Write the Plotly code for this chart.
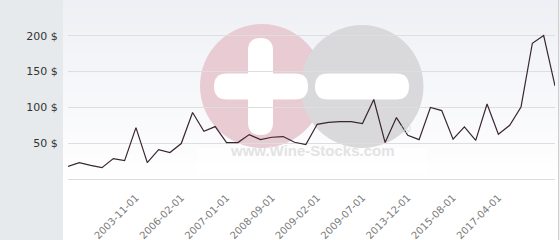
import plotly.graph_objects as go

dates = [
    "2002-01-01", "2002-05-01", "2002-09-01", "2003-01-01", "2003-04-01", "2003-08-01",
    "2003-11-01", "2004-06-01", "2005-01-01", "2005-07-01",
    "2006-02-01", "2006-05-01", "2006-08-01", "2006-10-01",
    "2007-01-01", "2007-06-01", "2007-11-01", "2008-04-01",
    "2008-09-01", "2008-10-01", "2008-11-01", "2008-12-01",
    "2009-02-01", "2009-03-01", "2009-04-01", "2009-06-01",
    "2009-07-01", "2010-09-01", "2011-12-01", "2012-11-01",
    "2013-12-01", "2014-04-01", "2014-09-01", "2015-02-01",
    "2015-08-01", "2016-01-01", "2016-06-01", "2016-11-01",
    "2017-04-01", "2017-09-01", "2018-02-01", "2018-07-01", "2018-12-01", "2019-05-01",
]
prices = [
    17.7, 22.9, 19.1, 15.9, 28.5, 25.7, 71.8, 22.9, 41.1, 36.9,
    49.5, 92.8, 66.7, 73.2, 50.9, 50.9, 62.0, 55.0, 58.3, 59.3,
    51.3, 48.0, 76.4, 79.2, 80.2, 80.2, 77.4, 111.0, 50.9, 85.8,
    61.0, 55.0, 99.8, 95.6, 55.5, 72.7, 54.0, 104.8, 62.5, 75.0,
    100.6, 189.6, 200.4, 130.0,
]
tick_labels = ["2003-11-01", "2006-02-01", "2007-01-01", "2008-09-01", "2009-02-01",
               "2009-07-01", "2013-12-01", "2015-08-01", "2017-04-01"]
y_ticks = [50, 100, 150, 200]
y_tick_text = ["50 $", "100 $", "150 $", "200 $"]

W, H = 560, 240
ML, MR, MT, MB = 68, 5, 0, 61
PW, PH = W - ML - MR, H - MT - MB


def px_x(x):
    return (x - ML) / PW


def px_y(y):
    return (MT + PH - y) / PH


def rect(x0, y0, x1, y1, color):
    return dict(type="rect", xref="paper", yref="paper", layer="below",
                x0=px_x(x0), x1=px_x(x1), y0=px_y(y1), y1=px_y(y0),
                fillcolor=color, line=dict(width=0))


def circle(cx, cy, r, color):
    return dict(type="circle", xref="paper", yref="paper", layer="below",
                x0=px_x(cx - r), x1=px_x(cx + r), y0=px_y(cy + r), y1=px_y(cy - r),
                fillcolor=color, line=dict(width=0))


def rounded(x0, y0, x1, y1, color):
    r = min(x1 - x0, y1 - y0) / 2
    pts = []
    def P(x, y):
        return f"{px_x(x):.5f},{px_y(y):.5f}"
    d = (f"M{P(x0 + r, y0)} L{P(x1 - r, y0)} Q{P(x1, y0)} {P(x1, y0 + r)} "
         f"L{P(x1, y1 - r)} Q{P(x1, y1)} {P(x1 - r, y1)} "
         f"L{P(x0 + r, y1)} Q{P(x0, y1)} {P(x0, y1 - r)} "
         f"L{P(x0, y0 + r)} Q{P(x0, y0)} {P(x0 + r, y0)} Z")
    return dict(type="path", xref="paper", yref="paper", layer="below",
                path=d, fillcolor=color, line=dict(width=0))


def lerp(c1, c2, t):
    return "rgb(%d,%d,%d)" % tuple(round(a + (b - a) * t) for a, b in zip(c1, c2))


shapes = []
# left panel
shapes.append(rect(0, 0, 63, 240, "#e6eaed"))
# plot background gradient
top_c, bot_c = (238, 240, 245), (255, 255, 255)
n = 24
gh = 185 / n
for i in range(n):
    shapes.append(rect(63, i * gh, 558, (i + 1) * gh + 0.5, lerp(top_c, bot_c, i / (n - 1))))
shapes.append(rect(63, 185, 558, 240, "#ffffff"))
# right border
shapes.append(rect(558, 0, 559.3, 240, "#cfcfcf"))
# watermark
shapes.append(rect(197, 148, 427, 174, "rgba(255,255,255,0.55)"))
shapes.append(circle(262, 86, 62, "#e9cbd3"))
shapes.append(circle(362, 86.5, 61.5, "#d9d9db"))
shapes.append(rounded(248, 38, 273, 135, "#ffffff"))
shapes.append(rounded(214, 73.5, 308, 99.5, "#ffffff"))
shapes.append(rounded(315, 73.5, 409, 99.5, "#ffffff"))

annotations = [
    dict(text="<b>www.Wine-Stocks.com</b>", xref="paper", yref="paper",
         x=px_x(312.5), y=px_y(161), showarrow=False,
         font=dict(family="Liberation Sans", size=15, color="#e3e3e3")),
    dict(text="®", xref="paper", yref="paper", x=px_x(413), y=px_y(138), showarrow=False,
         font=dict(family="Liberation Sans", size=13, color="#d4d4d4")),
]

fig = go.Figure()
fig.add_trace(go.Scatter(x=dates, y=prices, mode="lines",
                         line=dict(color="#3a2630", width=1.2), hoverinfo="skip"))
fig.update_layout(
    width=W, height=H, margin=dict(l=ML, r=MR, t=MT, b=MB, pad=0),
    paper_bgcolor="#ffffff", plot_bgcolor="rgba(0,0,0,0)",
    showlegend=False, shapes=shapes, annotations=annotations,
    font=dict(family="DejaVu Sans"),
)
fig.update_xaxes(type="category", range=[0, len(dates) - 1], tickmode="array",
                 tickvals=tick_labels, ticktext=tick_labels, tickangle=-45,
                 showgrid=False, showline=True, linecolor="#dcdcdc", linewidth=1,
                 ticks="outside", ticklen=8, tickcolor="rgba(0,0,0,0)",
                 tickfont=dict(family="DejaVu Sans", size=10, color="#7a7a7a"),
                 zeroline=False, fixedrange=True)
fig.update_yaxes(range=[0, 250], tickmode="array", tickvals=y_ticks, ticktext=y_tick_text,
                 showgrid=True, gridcolor="#dedede", gridwidth=1, zeroline=False,
                 ticks="outside", ticklen=7, tickcolor="rgba(0,0,0,0)",
                 tickfont=dict(family="DejaVu Sans", size=11, color="#333333"),
                 fixedrange=True)
fig.write_html("out.html")
